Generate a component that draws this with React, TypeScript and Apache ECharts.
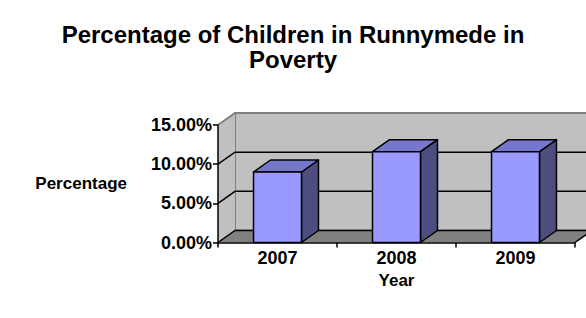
import React, { useEffect, useRef } from "react";
import * as echarts from "echarts";

const titleText = "Percentage of Children in Runnymede in\nPoverty";
const categories = ["2007", "2008", "2009"];
const values = [0.09, 0.116, 0.116];
const yTickValues = [0, 0.05, 0.1, 0.15];
const yMin = 0;
const yMax = 0.15;
const yInterval = 0.05;
const xAxisName = "Year";
const yAxisName = "Percentage";

const FONT = '"Liberation Sans", Arial, sans-serif';
const DX = 17;
const DY = 12;
const WALL = "#C0C0C0";
const WALL_EDGE = "#808080";
const FLOOR = "#808080";
const BAR_FRONT = "#9999FF";
const BAR_TOP = "#7676CC";
const BAR_SIDE = "#4D4D80";

export default function App() {
  const ref = useRef<HTMLDivElement>(null);
  useEffect(() => {
    if (!ref.current) return;
    const chart = echarts.init(ref.current, undefined, { renderer: "svg" });
    const option: any = {
      animation: false,
      backgroundColor: "#ffffff",
      title: {
        text: titleText,
        left: "center",
        top: 17,
        textStyle: {
          fontFamily: FONT,
          fontSize: 24,
          fontWeight: "bold",
          lineHeight: 25,
          color: "#000",
        },
      },
      grid: { left: 218, right: 11, top: 125, bottom: 75.5 },
      xAxis: {
        type: "category",
        data: categories,
        z: 10,
        name: xAxisName,
        nameLocation: "middle",
        nameGap: 29,
        nameTextStyle: { fontFamily: FONT, fontSize: 17, fontWeight: "bold", color: "#000", verticalAlign: "top" },
        axisLine: { lineStyle: { color: "#000", width: 1.5 } },
        axisTick: { show: true, length: 5, lineStyle: { color: "#000", width: 1.5 } },
        axisLabel: { margin: 6, fontFamily: FONT, fontSize: 18, fontWeight: "bold", color: "#000" },
        splitLine: { show: false },
      },
      yAxis: {
        type: "value",
        min: yMin,
        max: yMax,
        interval: yInterval,
        z: 10,
        name: yAxisName,
        nameLocation: "middle",
        nameRotate: 0,
        nameGap: 91,
        nameTextStyle: { fontFamily: FONT, fontSize: 17, fontWeight: "bold", color: "#000", align: "right", padding: [3, 0, 0, 0] },
        axisLine: { show: true, lineStyle: { color: "#000", width: 1.5 } },
        axisTick: { show: true, length: 5, lineStyle: { color: "#000", width: 1.5 } },
        axisLabel: {
          margin: 6,
          fontFamily: FONT,
          fontSize: 18,
          fontWeight: "bold",
          color: "#000",
          formatter: (v: number) => (v * 100).toFixed(2) + "%",
        },
        splitLine: { show: false },
      },
      series: [
        {
          type: "custom",
          name: "walls",
          z: 1,
          silent: true,
          data: [[0, 0]],
          renderItem: (params: any, api: any) => {
            const cs = params.coordSys;
            const x = cs.x;
            const w = cs.width;
            const yTop = api.coord([0, yMax])[1];
            const yBot = api.coord([0, yMin])[1];
            const children: any[] = [];
            children.push({
              type: "rect",
              shape: { x: x + DX, y: yTop - DY, width: w + 40, height: yBot - yTop },
              style: { fill: WALL, stroke: WALL_EDGE, lineWidth: 2 },
            });
            children.push({
              type: "polygon",
              shape: { points: [[x, yTop], [x + DX, yTop - DY], [x + DX, yBot - DY], [x, yBot]] },
              style: { fill: WALL, stroke: "none" },
            });
            children.push({
              type: "line",
              shape: { x1: x, y1: yTop, x2: x + DX, y2: yTop - DY },
              style: { stroke: WALL_EDGE, lineWidth: 2 },
            });
            children.push({
              type: "polygon",
              shape: { points: [[x, yBot], [x + DX, yBot - DY], [x + w + DX, yBot - DY], [x + w, yBot]] },
              style: { fill: FLOOR, stroke: "none" },
            });
            children.push({
              type: "line",
              shape: { x1: x + w, y1: yBot, x2: x + w + DX, y2: yBot - DY },
              style: { stroke: "#000", lineWidth: 1.5 },
            });
            yTickValues.forEach((v) => {
              if (v >= yMax) return;
              const yy = api.coord([0, v])[1];
              children.push({
                type: "polyline",
                shape: { points: [[x, yy], [x + DX, yy - DY], [x + w + DX + 20, yy - DY]] },
                style: { stroke: "#000", lineWidth: 1.5, fill: "none" },
              });
            });
            return { type: "group", children };
          },
        },
        {
          type: "custom",
          name: "Percentage",
          z: 5,
          data: values.map((v, i) => [i, v]),
          renderItem: (params: any, api: any) => {
            const idx = api.value(0);
            const val = api.value(1);
            const top = api.coord([idx, val]);
            const base = api.coord([idx, 0]);
            const bw = api.size([1, 0])[0] * 0.403;
            const l = top[0] - bw / 2;
            const r = top[0] + bw / 2;
            const t = top[1];
            const b = base[1];
            const st = { stroke: "#000", lineWidth: 1.5, lineJoin: "round" };
            return {
              type: "group",
              children: [
                {
                  type: "polygon",
                  shape: { points: [[r, t], [r + DX, t - DY], [r + DX, b - DY], [r, b]] },
                  style: { fill: BAR_SIDE, ...st },
                },
                {
                  type: "polygon",
                  shape: { points: [[l, t], [l + DX, t - DY], [r + DX, t - DY], [r, t]] },
                  style: { fill: BAR_TOP, ...st },
                },
                {
                  type: "rect",
                  shape: { x: l, y: t, width: bw, height: b - t },
                  style: { fill: BAR_FRONT, ...st },
                },
              ],
            };
          },
        },
      ],
    };
    chart.setOption(option);
    return () => chart.dispose();
  }, []);
  return (
    <div
      ref={ref}
      style={{ position: "absolute", left: 0, top: 0, width: 586, height: 318 }}
    />
  );
}
